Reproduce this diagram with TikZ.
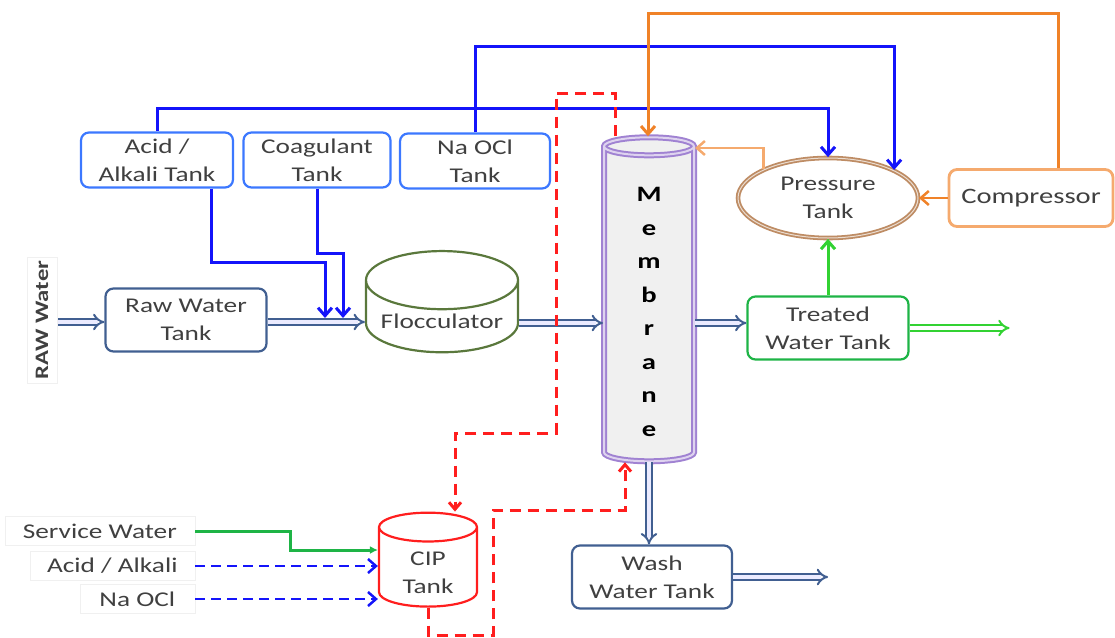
\documentclass[tikz,border=0pt]{standalone}
\usepackage{fontspec}
\setmainfont{Carlito}[FakeStretch=1.3]
\usetikzlibrary{shapes.geometric,arrows.meta}
\definecolor{txtgray}{RGB}{64,64,64}
\definecolor{chemblue}{RGB}{60,120,255}
\definecolor{pipeblue}{RGB}{20,20,250}
\definecolor{steel}{RGB}{65,95,145}
\definecolor{olivegreen}{RGB}{90,120,60}
\definecolor{treatgreen}{RGB}{30,180,70}
\definecolor{lightgreen}{RGB}{50,210,50}
\definecolor{airorange}{RGB}{240,130,40}
\definecolor{compborder}{RGB}{245,170,110}
\definecolor{tankbrown}{RGB}{190,140,100}
\definecolor{membpurple}{RGB}{160,130,210}
\definecolor{cipred}{RGB}{255,30,30}
\begin{document}
\begin{tikzpicture}[x=1pt,y=-1pt,font=\fontsize{21}{28}\selectfont,text=txtgray]
      \tikzstyle{chemtank} = [rectangle, rounded corners=8pt, minimum height=55pt, align=center, draw=chemblue, line width=2.2pt]
      \tikzstyle{watertank} = [rectangle, rounded corners=8pt, minimum width=161pt, minimum height=63pt, align=center, line width=2.2pt]
      \tikzstyle{drum} = [cylinder, shape border rotate=90, align=center, line width=2.2pt]
      \tikzstyle{feed} = [rectangle, draw=gray!12, minimum height=29pt, inner xsep=6pt, align=right, anchor=east]
      \tikzstyle{pipe} = [line width=3pt, -{Straight Barb[length=8pt,width=14pt]}]
      \tikzstyle{flow} = [double=blue!8, draw=steel, line width=2pt, double distance=3.5pt, -{Implies}]
      \tikzstyle{cipline} = [cipred, line width=3pt, dash pattern=on 11pt off 7pt, -{Straight Barb[length=7pt,width=12pt]}]

      \useasboundingbox (0,0) rectangle (1115,637);

      \node (rawlbl) [rectangle, draw=gray!12, rotate=90, minimum width=122pt, minimum height=30pt, font=\fontsize{19}{21}\selectfont\bfseries] at (42,320) {RAW Water};
      \node (acid) [chemtank, minimum width=152pt] at (157,160) {Acid /\\Alkali Tank};
      \node (coag) [chemtank, minimum width=147pt] at (317,160) {Coagulant\\Tank};
      \node (naocl) [chemtank, minimum width=150pt] at (475,161) {Na OCl\\Tank};
      \node (raw) [watertank, draw=steel] at (186,320) {Raw Water\\Tank};
      \node (floc) [drum, draw=olivegreen, minimum width=152pt, minimum height=72pt, aspect=0.45] at (442,321) {\raisebox{-4pt}{Flocculator}};
      \node (memb) [drum, draw=membpurple, double=membpurple!35, double distance=2pt, line width=2pt, fill=gray!12, minimum width=90pt, minimum height=324pt, aspect=2.7] at (649,306) {};
      \node (membtxt) [align=center, font=\fontsize{22}{33.5}\selectfont\bfseries, text=black] at (649,312) {M\\e\\m\\b\\r\\a\\n\\e};
      \node (press) [ellipse, draw=tankbrown, double=tankbrown!30, double distance=1pt, line width=1.8pt, minimum width=180pt, minimum height=80pt, align=center] at (828,198) {Pressure\\Tank};
      \node (comp) [rectangle, rounded corners=8pt, draw=compborder, line width=2.8pt, minimum width=164pt, minimum height=57pt, font=\fontsize{22}{24}\selectfont] at (1031,198) {Compressor};
      \node (treated) [watertank, draw=treatgreen] at (828,328) {Treated\\Water Tank};
      \node (wash) [watertank, draw=steel, minimum width=160pt] at (652,577) {Wash\\Water Tank};
      \node (cip) [drum, draw=cipred, minimum width=98pt, minimum height=84pt, aspect=0.5] at (428,570) {\\[-8pt]CIP\\Tank};
      \node (svc) [feed, minimum width=190pt] at (195,531) {Service Water};
      \node (acidlbl) [feed, minimum width=165pt] at (195,566) {Acid / Alkali};
      \node (naocllbl) [feed, minimum width=115pt] at (195,599) {Na OCl};

      \coordinate (rawin) at (58,322);
      \coordinate (acidtop) at (0,108);
      \coordinate (nacltop) at (0,46);
      \coordinate (acidbend) at (325,262);
      \coordinate (coagbend) at (343,253);
      \coordinate (aircorner) at (1058,13);
      \coordinate (airback) at (0,148);
      \coordinate (cipA) at (556,93);
      \coordinate (cipB) at (455,433);
      \coordinate (cipC) at (493,635);
      \coordinate (cipD) at (625,510);
      \coordinate (svcbend) at (290,550);

      % main water line
      \draw [flow] (rawin) -- (raw.west |- rawin);
      \draw [flow] (raw.east |- rawin) -- (floc.west |- rawin);
      \draw [flow] (floc.east |- 0,323) -- (memb.west |- 0,323);
      \draw [flow] (memb.east |- 0,323) -- (treated.west |- 0,323);
      \draw [flow] (memb.south) -- (memb.south |- wash.north);
      \draw [flow] (wash.east) -- ++(95,0);
      \draw [flow, draw=lightgreen, double=white] (treated.east) -- ++(100,0);

      % chemicals
      \draw [pipe, pipeblue] (acid.south -| 211,0) |- (acidbend) -- (acidbend |- 0,318);
      \draw [pipe, pipeblue] (coag.south) |- (coagbend) -- (coagbend |- 0,318);
      \draw [pipe, pipeblue] (acid.north) |- (press.north |- acidtop) -- (press.north);
      \draw [pipe, pipeblue] (naocl.north) |- (press.23 |- nacltop) -- (press.23);

      % air
      \draw [pipe, airorange] (comp.north -| aircorner) -- (aircorner) -| (memb.north -| 648,0);
      \draw [pipe, airorange, line width=2.5pt] (comp.west) -- (press.east);
      \draw [pipe, airorange, line width=2.5pt, draw=compborder] (press.156) |- (memb.east |- airback);
      \draw [pipe, lightgreen] (treated.north) -- (press.south);

      % cleaning in place
      \draw [cipline] (memb.north -| 615,0) |- (cipA) |- (cipB) -- (cip.north -| cipB);
      \draw [cipline] (cip.south) |- (cipC) |- (cipD) -- (memb.south -| cipD);
      \draw [pipe, treatgreen, -{Latex[length=8pt,width=8pt]}] (svc.east) -| (svcbend) -- (cip.west |- svcbend);
      \draw [pipe, pipeblue, line width=2.5pt, dash pattern=on 10pt off 6pt] (acidlbl.east) -- (cip.west |- acidlbl.east);
      \draw [pipe, pipeblue, line width=2.5pt, dash pattern=on 10pt off 6pt] (naocllbl.east) -- (cip.west |- naocllbl.east);
\end{tikzpicture}
\end{document}
